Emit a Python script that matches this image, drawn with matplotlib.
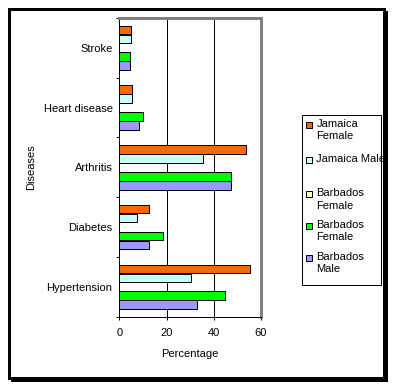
import matplotlib
matplotlib.use("Agg")
import matplotlib.pyplot as plt
from matplotlib.patches import Rectangle
import numpy as np

categories = ["Hypertension", "Diabetes", "Arthritis", "Heart disease", "Stroke"]
series_names = ["Jamaica\nFemale", "Jamaica Male", "Barbados\nFemale", "Barbados\nFemale", "Barbados\nMale"]
jamaica_female = [55.5, 12.5, 54, 5.5, 5]
jamaica_male = [30.3, 7.6, 35.4, 5.5, 5]
barbados_female_empty = [0, 0, 0, 0, 0]
barbados_female = [44.8, 18.3, 47.4, 9.9, 4.6]
barbados_male = [32.8, 12.5, 47.4, 8.5, 4.6]
series = [jamaica_female, jamaica_male, barbados_female_empty, barbados_female, barbados_male]
colors = ["#FF6600", "#CCFFFF", "#FFFFCC", "#00FF00", "#9999FF"]
xticks = [0, 20, 40, 60]

W, H = 396, 389
DPI = 100
FS = 8
plt.rcParams['font.family'] = ['Liberation Sans', 'DejaVu Sans']
fig = plt.figure(figsize=(W / DPI, H / DPI), dpi=DPI)
px = 72.0 / DPI  # points per pixel

def fx(x):
    return x / W

def fy(y):
    return 1 - y / H

# outer frame with shadow
fig.patches.append(Rectangle((fx(11), fy(382)), fx(388) - fx(11), fy(11) - fy(382),
                             transform=fig.transFigure, facecolor="black", edgecolor="none", zorder=-3))
fig.patches.append(Rectangle((fx(8.5), fy(377.5)), fx(383.5) - fx(8.5), fy(8.5) - fy(377.5),
                             transform=fig.transFigure, facecolor="white", edgecolor="black",
                             linewidth=3 * px, zorder=-2))

ax_l, ax_r, ax_t, ax_b = 119.5, 260.5, 18, 316.7
ax = fig.add_axes([fx(ax_l), fy(ax_b), fx(ax_r) - fx(ax_l), fy(ax_t) - fy(ax_b)])
ax.set_facecolor("white")

y = np.arange(len(categories))
offsets = [0.3, 0.15, 0.0, -0.15, -0.3]
h = 0.145
for vals, col, off in zip(series, colors, offsets):
    ax.barh(y + off, vals, height=h, color=col, edgecolor="black", linewidth=1 * px, zorder=3)

ax.set_xlim(0, 60)
ax.set_ylim(-0.5, len(categories) - 0.5)
ax.set_xticks(xticks)
ax.set_xticklabels([str(t) for t in xticks], fontsize=FS)
ax.set_yticks(np.arange(len(categories) + 1) - 0.5)
ax.set_yticklabels([])
ax.set_yticks(y, minor=True)
ax.set_yticklabels(categories, minor=True, fontsize=FS)
ax.tick_params(axis="y", which="minor", length=0, pad=5)
ax.tick_params(axis="y", which="major", length=3 * px, width=1 * px, direction="out")
ax.tick_params(axis="x", length=3 * px, width=1 * px, direction="out", pad=6)

for g in [20, 40]:
    ax.axvline(g, color="black", linewidth=1 * px, zorder=1)

ax.spines["left"].set_color("black")
ax.spines["left"].set_linewidth(1 * px)
ax.spines["bottom"].set_color("black")
ax.spines["bottom"].set_linewidth(1 * px)
ax.spines["top"].set_color("#808080")
ax.spines["top"].set_linewidth(3 * px)
ax.spines["right"].set_color("#808080")
ax.spines["right"].set_linewidth(3 * px)

fig.text(fx(190), fy(354), "Percentage", ha="center", va="center", fontsize=FS)
fig.text(fx(31), fy(167.5), "Diseases", rotation=90, ha="center", va="center", fontsize=FS)

# legend
lg_l, lg_t, lg_r, lg_b = 302, 115, 381, 285
fig.patches.append(Rectangle((fx(lg_l), fy(lg_b)), fx(lg_r) - fx(lg_l), fy(lg_t) - fy(lg_b),
                             transform=fig.transFigure, facecolor="white", edgecolor="black",
                             linewidth=1 * px, zorder=5))
entry_y = [125, 160, 194.3, 226, 257.7]
for name, col, ey in zip(series_names, colors, entry_y):
    fig.patches.append(Rectangle((fx(305.5), fy(ey + 3)), fx(6), 6 / H,
                                 transform=fig.transFigure, facecolor=col, edgecolor="black",
                                 linewidth=1 * px, zorder=6))
    fig.text(fx(316.5), fy(ey), name, ha="left", va="baseline", fontsize=FS,
             linespacing=1.3, zorder=6, transform=fig.transFigure)

# adjust baseline: place first-line centre at ey (approx +4px for baseline)
for t, ey in zip(fig.texts[-5:], entry_y):
    t.set_verticalalignment("top")
    t.set_y(fy(ey - 6))

fig.savefig("out.png", dpi=DPI)
